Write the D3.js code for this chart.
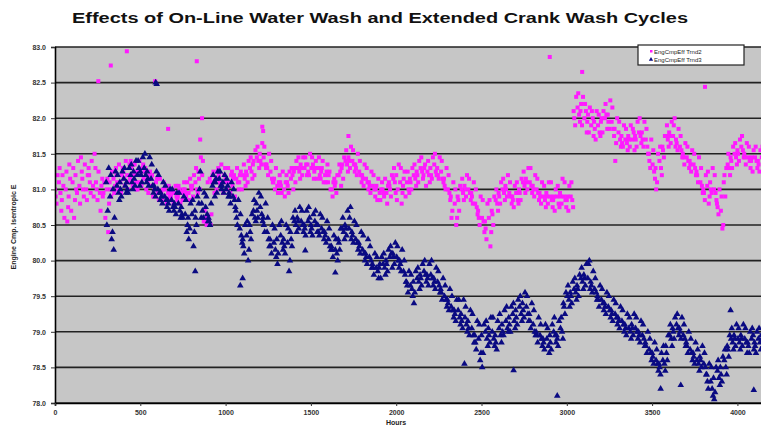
<!DOCTYPE html>
<html>
<head>
<meta charset="utf-8">
<script src="https://cdn.jsdelivr.net/npm/d3@7"></script>
<style>
  body { margin: 0; background: #fff; }
  svg { display: block; font-family: "Liberation Sans", Arial, sans-serif; }
</style>
</head>
<body>
<div id="chart"></div>
<script>
const title = "Effects of On-Line Water Wash and Extended Crank Wash Cycles";
const seriesNames = ["EngCmpEff Trnd2", "EngCmpEff Trnd3"];
const yTicks = [78.0, 78.5, 79.0, 79.5, 80.0, 80.5, 81.0, 81.5, 82.0, 82.5, 83.0];
const xTicks = [0, 500, 1000, 1500, 2000, 2500, 3000, 3500, 4000];

// each row: hour, then four readings taken across the next ~20 hours
const trnd2 = [
  [0, 81.0, 80.8, 81.2, 80.9], [20, 81.1, 80.7, 81.3, 80.95], [40, 80.85, 81.05, 80.6, 81.2], [60, 81.0, 80.75, 81.25, 80.55],
  [80, 80.9, 81.15, 80.7, 81.35], [100, 81.1, 80.85, 81.3, 80.6], [120, 81.2, 80.95, 81.4, 81.0], [140, 81.05, 81.25, 80.8, 81.45],
  [160, 81.15, 80.9, 81.35, 81.0], [180, 81.0, 81.3, 80.85, 81.2], [200, 81.2, 80.95, 81.4, 81.1], [220, 81.05, 81.3, 80.9, 81.5],
  [240, 81.1, 80.85, 81.25, 81.0], [260, 80.95, 81.15, 80.7, 81.05], [280, 80.9, 81.1, 80.6, 80.95], [300, 81.0, 80.8, 81.15, 80.4],
  [320, 81.1, 80.9, 81.25, 81.0], [340, 81.15, 81.3, 80.95, 81.05], [360, 81.2, 81.0, 81.35, 81.1], [380, 81.1, 81.3, 80.95, 81.2],
  [400, 81.25, 81.05, 81.4, 81.15], [420, 81.2, 81.35, 81.0, 81.1], [440, 81.15, 81.3, 81.05, 81.4], [460, 81.2, 81.0, 81.35, 81.1],
  [480, 81.25, 81.1, 81.4, 81.0], [500, 81.2, 81.35, 81.05, 81.3], [520, 81.15, 81.3, 81.0, 81.25], [540, 81.1, 81.25, 80.95, 81.2],
  [560, 81.05, 81.2, 80.9, 81.15], [580, 81.0, 81.15, 80.9, 81.1], [600, 81.0, 80.85, 81.15, 80.95], [620, 80.95, 81.1, 80.85, 81.0],
  [640, 80.9, 81.05, 80.8, 81.0], [660, 80.95, 80.85, 81.05, 80.9], [680, 80.9, 81.0, 80.8, 80.95], [700, 80.95, 80.85, 81.05, 80.9],
  [720, 80.9, 81.0, 80.8, 81.05], [740, 80.95, 81.1, 80.85, 81.0], [760, 81.0, 80.9, 81.1, 80.95], [780, 80.95, 81.05, 80.85, 81.15],
  [800, 81.0, 80.9, 81.2, 81.05], [820, 81.1, 80.95, 81.3, 81.0], [840, 81.25, 81.0, 81.45, 81.15], [860, 81.2, 80.7, 81.4, 80.55],
  [880, 80.6, 80.5, 81.1, 80.55], [900, 80.55, 80.65, 81.15, 80.5], [920, 81.1, 81.25, 80.95, 81.2], [940, 81.15, 81.3, 81.0, 81.25],
  [960, 81.2, 81.05, 81.35, 81.1], [980, 81.1, 81.3, 80.95, 81.2], [1000, 81.15, 81.0, 81.3, 81.1], [1020, 81.1, 81.25, 80.95, 81.2],
  [1040, 81.05, 81.2, 80.9, 81.15], [1060, 81.15, 81.0, 81.3, 81.1], [1080, 81.1, 81.25, 81.0, 81.2], [1100, 81.2, 81.05, 81.35, 81.15],
  [1120, 81.25, 81.1, 81.4, 81.2], [1140, 81.3, 81.15, 81.45, 81.25], [1160, 81.35, 81.2, 81.55, 81.4], [1180, 81.45, 81.3, 81.6, 81.4],
  [1200, 81.5, 81.35, 81.65, 81.4], [1220, 81.45, 81.3, 81.6, 81.35], [1240, 81.35, 81.2, 81.5, 81.3], [1260, 81.25, 81.1, 81.4, 81.15],
  [1280, 81.1, 81.0, 81.3, 81.15], [1300, 81.05, 81.2, 80.95, 81.1], [1320, 81.1, 80.95, 81.25, 81.05], [1340, 81.0, 81.2, 80.9, 81.1],
  [1360, 81.1, 80.95, 81.25, 81.05], [1380, 81.15, 81.0, 81.3, 81.2], [1400, 81.25, 81.1, 81.4, 81.3], [1420, 81.3, 81.15, 81.45, 81.25],
  [1440, 81.35, 81.2, 81.45, 81.3], [1460, 81.3, 81.2, 81.45, 81.35], [1480, 81.35, 81.2, 81.5, 81.25], [1500, 81.3, 81.15, 81.45, 81.35],
  [1520, 81.25, 81.4, 81.15, 81.3], [1540, 81.3, 81.15, 81.45, 81.2], [1560, 81.25, 81.4, 81.1, 81.3], [1580, 81.2, 81.35, 81.1, 81.25],
  [1600, 81.1, 81.25, 81.0, 81.2], [1620, 81.0, 81.15, 80.9, 81.1], [1640, 81.05, 80.95, 81.2, 81.1], [1660, 81.2, 81.05, 81.35, 81.25],
  [1680, 81.3, 81.15, 81.45, 81.35], [1700, 81.4, 81.25, 81.55, 81.35], [1720, 81.45, 81.3, 81.6, 81.4], [1740, 81.4, 81.25, 81.55, 81.35],
  [1760, 81.35, 81.2, 81.5, 81.3], [1780, 81.25, 81.1, 81.4, 81.2], [1800, 81.2, 81.05, 81.35, 81.15], [1820, 81.15, 81.0, 81.3, 81.1],
  [1840, 81.1, 80.95, 81.25, 81.05], [1860, 81.05, 80.9, 81.2, 81.0], [1880, 81.0, 80.85, 81.15, 81.05], [1900, 80.95, 81.1, 80.85, 81.0],
  [1920, 81.0, 80.9, 81.15, 80.95], [1940, 80.95, 81.1, 80.8, 81.05], [1960, 81.05, 80.9, 81.2, 81.0], [1980, 81.15, 80.95, 81.3, 81.1],
  [2000, 81.2, 81.0, 81.35, 80.85], [2020, 81.1, 80.95, 81.3, 80.8], [2040, 81.05, 81.25, 80.9, 81.15], [2060, 81.1, 80.95, 81.25, 81.0],
  [2080, 81.15, 81.0, 81.3, 81.1], [2100, 81.2, 81.05, 81.35, 81.15], [2120, 81.25, 81.1, 81.4, 81.2], [2140, 81.3, 81.15, 81.45, 81.25],
  [2160, 81.2, 81.35, 81.05, 81.3], [2180, 81.25, 81.1, 81.4, 81.2], [2200, 81.3, 81.15, 81.45, 81.2], [2220, 81.35, 81.2, 81.5, 81.25],
  [2240, 81.3, 81.15, 81.45, 81.2], [2260, 81.25, 81.1, 81.4, 81.15], [2280, 81.15, 81.0, 81.3, 81.05], [2300, 81.0, 80.85, 81.2, 80.95],
  [2320, 80.9, 80.7, 81.1, 80.6], [2340, 80.8, 80.6, 81.0, 80.5], [2360, 80.9, 80.7, 81.05, 80.85], [2380, 81.0, 80.85, 81.15, 80.95],
  [2400, 81.05, 80.9, 81.2, 81.0], [2420, 81.0, 80.85, 81.15, 80.95], [2440, 80.95, 80.8, 81.1, 80.9], [2460, 80.8, 80.65, 81.0, 80.75],
  [2480, 80.7, 80.5, 80.9, 80.6], [2500, 80.6, 80.4, 80.85, 80.55], [2520, 80.55, 80.3, 80.8, 80.45], [2540, 80.6, 80.4, 80.85, 80.2],
  [2560, 80.7, 80.5, 80.9, 80.65], [2580, 80.85, 80.7, 81.0, 80.8], [2600, 80.95, 80.8, 81.1, 80.9], [2620, 81.0, 80.85, 81.15, 80.95],
  [2640, 81.05, 80.9, 81.2, 81.0], [2660, 80.95, 80.8, 81.1, 80.9], [2680, 80.9, 80.75, 81.05, 80.85], [2700, 80.95, 80.8, 81.1, 80.85],
  [2720, 81.0, 80.85, 81.15, 80.95], [2740, 81.1, 80.95, 81.25, 81.05], [2760, 81.15, 81.0, 81.3, 81.1], [2780, 81.1, 80.95, 81.3, 81.05],
  [2800, 81.05, 80.9, 81.2, 81.0], [2820, 81.0, 80.85, 81.15, 80.95], [2840, 80.95, 80.8, 81.1, 80.9], [2860, 80.9, 80.75, 81.05, 80.85],
  [2880, 80.95, 80.8, 81.1, 80.9], [2900, 80.9, 80.75, 81.1, 80.85], [2920, 80.85, 80.7, 81.0, 80.9], [2940, 80.9, 80.75, 81.05, 80.8],
  [2960, 80.95, 80.8, 81.15, 80.9], [2980, 80.9, 80.75, 81.1, 80.85], [3000, 80.85, 80.7, 81.05, 80.9], [3020, 80.9, 80.75, 81.1, 80.85],
  [3040, 82.1, 81.9, 82.3, 82.0], [3060, 82.15, 81.95, 82.35, 82.05], [3080, 82.1, 81.9, 82.3, 82.2], [3100, 82.0, 81.8, 82.2, 82.1],
  [3120, 81.95, 81.8, 82.15, 82.05], [3140, 81.9, 81.75, 82.1, 82.0], [3160, 81.95, 81.7, 82.1, 81.85], [3180, 81.9, 81.75, 82.05, 81.8],
  [3200, 81.95, 81.8, 82.1, 82.0], [3220, 82.0, 81.85, 82.2, 82.05], [3240, 82.05, 81.85, 82.25, 81.95], [3260, 81.95, 81.75, 82.15, 81.85],
  [3280, 81.85, 81.65, 82.0, 81.4], [3300, 81.8, 81.6, 81.95, 81.7], [3320, 81.75, 81.6, 81.9, 81.65], [3340, 81.7, 81.55, 81.85, 81.65],
  [3360, 81.75, 81.6, 81.9, 81.7], [3380, 81.7, 81.55, 81.85, 81.8], [3400, 81.75, 81.6, 81.95, 81.7], [3420, 81.8, 81.65, 82.0, 81.75],
  [3440, 81.8, 81.6, 81.95, 81.7], [3460, 81.7, 81.5, 81.85, 81.6], [3480, 81.5, 81.3, 81.7, 81.4], [3500, 81.35, 81.15, 81.55, 81.25],
  [3520, 81.3, 81.1, 81.5, 81.0], [3540, 81.4, 81.2, 81.6, 81.3], [3560, 81.6, 81.45, 81.75, 81.55], [3580, 81.75, 81.6, 81.9, 81.7],
  [3600, 81.8, 81.65, 81.95, 81.75], [3620, 81.75, 81.6, 81.9, 82.0], [3640, 81.7, 81.55, 81.85, 81.65], [3660, 81.6, 81.45, 81.75, 81.55],
  [3680, 81.5, 81.35, 81.65, 81.45], [3700, 81.45, 81.3, 81.6, 81.4], [3720, 81.4, 81.25, 81.55, 81.35], [3740, 81.35, 81.2, 81.5, 81.3],
  [3760, 81.25, 81.1, 81.45, 81.2], [3780, 81.1, 80.95, 81.3, 81.05], [3800, 81.0, 80.85, 81.2, 80.95], [3820, 81.05, 80.9, 81.25, 80.8],
  [3840, 81.1, 80.95, 81.3, 81.0], [3860, 81.0, 80.85, 81.2, 80.95], [3880, 80.8, 80.65, 81.0, 80.75], [3900, 80.7, 80.5, 80.9, 80.45],
  [3920, 81.1, 80.9, 81.3, 81.2], [3940, 81.35, 81.2, 81.5, 81.3], [3960, 81.45, 81.3, 81.6, 81.4], [3980, 81.5, 81.35, 81.65, 81.45],
  [4000, 81.55, 81.4, 81.7, 81.5], [4020, 81.6, 81.45, 81.75, 81.55], [4040, 81.5, 81.35, 81.65, 81.45], [4060, 81.45, 81.3, 81.6, 81.4],
  [4080, 81.4, 81.25, 81.55, 81.45], [4100, 81.45, 81.3, 81.6, 81.4], [4120, 81.4, 81.25, 81.55, 81.35], [4140, 81.45, 81.3, 81.6, 81.4]
];
const trnd2Outliers = [
  [254, 82.52], [327, 82.74], [421, 82.94], [587, 82.52], [663, 81.85], [831, 82.8], [851, 81.7], [862, 82.0],
  [1215, 81.88], [1220, 81.82], [1720, 81.75], [2900, 82.86], [3090, 82.65], [3810, 82.44]
];

const trnd3 = [
  [300, 81.1, 80.7, 81.3, 80.5], [320, 80.9, 80.4, 81.2, 80.3], [340, 81.0, 80.6, 81.25, 80.15], [360, 81.05, 80.85, 81.2, 80.95],
  [380, 81.1, 80.9, 81.25, 81.0], [400, 81.15, 80.95, 81.3, 81.05], [420, 81.1, 80.95, 81.3, 81.0], [440, 81.2, 81.0, 81.35, 81.1],
  [460, 81.25, 81.05, 81.4, 81.15], [480, 81.2, 81.05, 81.4, 81.3], [500, 81.25, 81.1, 81.45, 81.2], [520, 81.3, 81.1, 81.5, 81.2],
  [540, 81.25, 81.05, 81.45, 81.15], [560, 81.15, 80.95, 81.35, 81.05], [580, 81.05, 80.9, 81.25, 81.0], [600, 81.0, 80.85, 81.2, 80.95],
  [620, 80.95, 80.8, 81.1, 80.9], [640, 80.9, 80.75, 81.05, 80.85], [660, 80.85, 80.7, 81.0, 80.8], [680, 80.85, 80.7, 81.0, 80.75],
  [700, 80.8, 80.65, 80.95, 80.75], [720, 80.8, 80.6, 80.95, 80.7], [740, 80.75, 80.6, 80.9, 80.65], [760, 80.65, 80.5, 80.85, 80.4],
  [780, 80.6, 80.45, 80.8, 80.3], [800, 80.65, 80.4, 80.85, 80.2], [820, 80.7, 80.5, 80.9, 80.6], [840, 80.8, 80.6, 81.0, 81.25],
  [860, 80.8, 80.6, 80.95, 80.7], [880, 80.75, 80.55, 80.9, 80.65], [900, 80.6, 80.5, 80.8, 80.55], [920, 81.05, 80.9, 81.2, 81.1],
  [940, 81.1, 80.95, 81.25, 81.15], [960, 81.15, 81.0, 81.25, 81.05], [980, 81.05, 80.95, 81.2, 81.1], [1000, 81.0, 80.9, 81.15, 81.05],
  [1020, 80.95, 80.8, 81.1, 80.9], [1040, 80.9, 80.75, 81.0, 80.85], [1060, 80.7, 80.5, 80.85, 80.6], [1080, 80.45, 80.25, 80.65, 80.35],
  [1100, 80.3, 80.1, 80.5, 80.2], [1120, 80.35, 80.15, 80.55, 80.0], [1140, 80.5, 80.3, 80.65, 80.4], [1160, 80.7, 80.55, 80.85, 80.6],
  [1180, 80.8, 80.6, 80.95, 80.7], [1200, 80.75, 80.55, 80.9, 80.65], [1220, 80.6, 80.4, 80.8, 80.5], [1240, 80.4, 80.2, 80.6, 80.3],
  [1260, 80.3, 80.1, 80.5, 80.2], [1280, 80.25, 80.05, 80.45, 80.15], [1300, 80.3, 80.1, 80.5, 79.95], [1320, 80.35, 80.15, 80.55, 80.25],
  [1340, 80.3, 80.1, 80.5, 80.2], [1360, 80.25, 80.0, 80.45, 79.85], [1380, 80.4, 80.2, 80.6, 80.3], [1400, 80.55, 80.4, 80.7, 80.5],
  [1420, 80.6, 80.45, 80.75, 80.55], [1440, 80.55, 80.4, 80.7, 80.5], [1460, 80.5, 80.35, 80.7, 80.45], [1480, 80.55, 80.4, 80.75, 80.6],
  [1500, 80.5, 80.35, 80.65, 80.45], [1520, 80.55, 80.4, 80.7, 80.5], [1540, 80.5, 80.35, 80.65, 80.4], [1560, 80.45, 80.3, 80.6, 80.4],
  [1580, 80.4, 80.25, 80.55, 80.35], [1600, 80.3, 80.15, 80.45, 80.2], [1620, 80.2, 80.05, 80.35, 80.15], [1640, 80.15, 80.0, 80.3, 80.1],
  [1660, 80.3, 80.15, 80.45, 80.25], [1680, 80.45, 80.3, 80.6, 80.4], [1700, 80.5, 80.35, 80.7, 80.45], [1720, 80.45, 80.3, 80.6, 80.75],
  [1740, 80.4, 80.25, 80.55, 80.35], [1760, 80.3, 80.15, 80.5, 80.25], [1780, 80.25, 80.1, 80.4, 80.2], [1800, 80.15, 80.0, 80.35, 80.1],
  [1820, 80.1, 79.95, 80.3, 80.05], [1840, 80.05, 79.9, 80.2, 80.0], [1860, 79.95, 79.8, 80.1, 79.9], [1880, 79.9, 79.75, 80.05, 79.85],
  [1900, 79.9, 79.75, 80.05, 79.95], [1920, 79.95, 79.8, 80.1, 79.9], [1940, 80.0, 79.85, 80.15, 79.95], [1960, 80.05, 79.9, 80.2, 80.1],
  [1980, 80.1, 79.95, 80.25, 80.05], [2000, 80.05, 79.9, 80.2, 80.0], [2020, 80.0, 79.85, 80.15, 79.95], [2040, 79.85, 79.7, 80.0, 79.8],
  [2060, 79.7, 79.55, 79.85, 79.65], [2080, 79.65, 79.5, 79.8, 79.6], [2100, 79.7, 79.55, 79.85, 79.4], [2120, 79.75, 79.6, 79.9, 79.7],
  [2140, 79.8, 79.65, 79.95, 79.75], [2160, 79.85, 79.7, 80.0, 79.8], [2180, 79.8, 79.65, 79.95, 79.75], [2200, 79.8, 79.65, 80.0, 79.75],
  [2220, 79.75, 79.6, 79.9, 79.7], [2240, 79.7, 79.55, 79.85, 79.65], [2260, 79.6, 79.45, 79.75, 79.55], [2280, 79.5, 79.35, 79.65, 79.45],
  [2300, 79.45, 79.3, 79.6, 79.4], [2320, 79.35, 79.2, 79.5, 79.3], [2340, 79.3, 79.15, 79.45, 79.25], [2360, 79.3, 79.1, 79.45, 79.2],
  [2380, 79.25, 79.05, 79.45, 79.15], [2400, 79.2, 79.0, 79.35, 79.1], [2420, 79.15, 78.95, 79.3, 79.05], [2440, 79.05, 78.85, 79.25, 78.95],
  [2460, 78.95, 78.75, 79.15, 78.85], [2480, 78.9, 78.7, 79.1, 78.6], [2500, 78.95, 78.7, 79.1, 78.5], [2520, 79.0, 78.8, 79.15, 78.9],
  [2540, 79.05, 78.85, 79.2, 78.95], [2560, 79.0, 78.8, 79.2, 78.9], [2580, 78.95, 78.75, 79.15, 78.85], [2600, 79.05, 78.85, 79.25, 78.95],
  [2620, 79.1, 78.95, 79.3, 79.0], [2640, 79.15, 79.0, 79.35, 79.05], [2660, 79.2, 79.0, 79.35, 79.1], [2680, 79.25, 79.05, 79.4, 79.15],
  [2700, 79.3, 79.1, 79.45, 79.2], [2720, 79.35, 79.15, 79.5, 79.25], [2740, 79.4, 79.2, 79.55, 79.3], [2760, 79.35, 79.15, 79.5, 79.25],
  [2780, 79.25, 79.05, 79.4, 79.15], [2800, 79.1, 78.95, 79.3, 79.0], [2820, 79.0, 78.85, 79.2, 78.95], [2840, 78.95, 78.8, 79.1, 78.9],
  [2860, 78.9, 78.75, 79.1, 78.85], [2880, 78.9, 78.7, 79.05, 78.8], [2900, 78.95, 78.75, 79.1, 78.85], [2920, 79.0, 78.85, 79.2, 78.95],
  [2940, 78.95, 78.8, 79.15, 78.9], [2960, 79.05, 78.9, 79.2, 79.0], [2980, 79.4, 79.25, 79.55, 79.35], [3000, 79.5, 79.35, 79.65, 79.45],
  [3020, 79.55, 79.4, 79.7, 79.5], [3040, 79.6, 79.45, 79.75, 79.55], [3060, 79.65, 79.5, 79.8, 79.6], [3080, 79.75, 79.6, 79.9, 79.7],
  [3100, 79.8, 79.65, 79.95, 79.75], [3120, 79.75, 79.6, 79.95, 80.0], [3140, 79.7, 79.55, 79.85, 79.65], [3160, 79.6, 79.45, 79.75, 79.55],
  [3180, 79.5, 79.35, 79.65, 79.45], [3200, 79.45, 79.3, 79.6, 79.4], [3220, 79.4, 79.25, 79.55, 79.35], [3240, 79.35, 79.2, 79.5, 79.3],
  [3260, 79.3, 79.15, 79.45, 79.25], [3280, 79.25, 79.1, 79.4, 79.2], [3300, 79.2, 79.05, 79.35, 79.15], [3320, 79.15, 79.0, 79.3, 79.1],
  [3340, 79.1, 78.95, 79.25, 79.05], [3360, 79.05, 78.9, 79.2, 79.0], [3380, 79.1, 78.95, 79.25, 79.05], [3400, 79.05, 78.9, 79.2, 79.0],
  [3420, 79.0, 78.85, 79.15, 78.95], [3440, 78.95, 78.8, 79.1, 78.9], [3460, 78.85, 78.7, 79.0, 78.8], [3480, 78.75, 78.6, 78.9, 78.7],
  [3500, 78.7, 78.55, 78.85, 78.65], [3520, 78.6, 78.45, 78.75, 78.55], [3540, 78.55, 78.4, 78.7, 78.5], [3560, 78.6, 78.45, 78.8, 78.55],
  [3580, 78.8, 78.6, 78.95, 78.7], [3600, 78.95, 78.8, 79.1, 78.9], [3620, 79.05, 78.9, 79.2, 79.0], [3640, 79.1, 78.95, 79.25, 79.05],
  [3660, 79.05, 78.9, 79.2, 79.0], [3680, 78.95, 78.8, 79.1, 78.9], [3700, 78.85, 78.7, 79.0, 78.8], [3720, 78.75, 78.6, 78.9, 78.7],
  [3740, 78.7, 78.55, 78.85, 78.65], [3760, 78.6, 78.45, 78.75, 78.55], [3780, 78.65, 78.5, 78.8, 78.6], [3800, 78.55, 78.4, 78.7, 78.5],
  [3820, 78.4, 78.2, 78.55, 78.3], [3840, 78.3, 78.1, 78.5, 78.2], [3860, 78.35, 78.15, 78.5, 78.05], [3880, 78.45, 78.25, 78.6, 78.35],
  [3900, 78.5, 78.3, 78.65, 78.4], [3920, 78.6, 78.4, 78.75, 78.5], [3940, 78.8, 78.65, 78.95, 78.75], [3960, 78.9, 78.75, 79.05, 78.85],
  [3980, 78.95, 78.8, 79.1, 78.9], [4000, 78.9, 78.75, 79.05, 78.85], [4020, 78.95, 78.8, 79.1, 78.9], [4040, 78.9, 78.7, 79.05, 78.85],
  [4060, 78.85, 78.7, 79.0, 78.8], [4080, 78.9, 78.75, 79.05, 78.95], [4100, 78.85, 78.7, 79.0, 78.8], [4120, 78.9, 78.75, 79.05, 78.85],
  [4140, 78.95, 78.8, 79.1, 78.9]
];
const trnd3Outliers = [
  [590, 82.5], [596, 82.48], [822, 79.85], [1086, 79.65], [1100, 79.75], [1467, 80.14], [1643, 79.83],
  [2400, 78.55], [2688, 78.46], [2944, 78.1], [3550, 78.2], [3668, 78.25], [3960, 79.3], [4096, 78.18]
];

const width = 761, height = 428;
const margin = { top: 47, left: 55, bottom: 25, right: 0 };

const svg = d3.select("#chart").append("svg")
    .attr("width", width)
    .attr("height", height);

const x = d3.scaleLinear().domain([0, 4150]).range([margin.left, 763]);
const y = d3.scaleLinear().domain([78, 83]).range([height - margin.bottom, margin.top]);

// flatten the rows into points; readings sit at staggered hours inside the 20 hour slot
const slotOffsets = [[0, 9, 15, 4], [3, 17, 7, 12]];
function toPoints(rows, extra) {
    const pts = [];
    rows.forEach((r, j) => {
        r.slice(1).forEach((v, i) => pts.push([r[0] + slotOffsets[j % 2][i], v]));
    });
    return pts.concat(extra);
}

svg.append("text")
    .attr("x", 380)
    .attr("y", 23)
    .attr("text-anchor", "middle")
    .attr("textLength", 616)
    .attr("lengthAdjust", "spacingAndGlyphs")
    .style("font-size", "14px")
    .style("font-weight", "bold")
    .style("fill", "#111")
    .text(title);

// plot background
svg.append("rect")
    .attr("x", margin.left)
    .attr("y", y(83))
    .attr("width", width - margin.left)
    .attr("height", y(78) - y(83))
    .style("fill", "#c6c6c6");

// gridlines
svg.append("g")
    .selectAll("line")
    .data(yTicks)
    .join("line")
    .attr("x1", margin.left)
    .attr("x2", width)
    .attr("y1", d => y(d))
    .attr("y2", d => y(d))
    .style("stroke", "#222")
    .style("stroke-width", 1.6);

svg.append("clipPath").attr("id", "plotClip")
    .append("rect")
    .attr("x", margin.left)
    .attr("y", y(83) - 4)
    .attr("width", width - margin.left)
    .attr("height", y(78) - y(83) + 4);

const plot = svg.append("g").attr("clip-path", "url(#plotClip)");

plot.append("g")
    .selectAll("rect")
    .data(toPoints(trnd2, trnd2Outliers))
    .join("rect")
    .attr("x", d => x(d[0]) - 2)
    .attr("y", d => y(d[1]) - 2)
    .attr("width", 4)
    .attr("height", 4)
    .style("fill", "#ff1aff");

const tri = d3.symbol().type(d3.symbolTriangle).size(19);
plot.append("g")
    .selectAll("path")
    .data(toPoints(trnd3, trnd3Outliers))
    .join("path")
    .attr("d", tri)
    .attr("transform", d => `translate(${x(d[0])},${y(d[1])})`)
    .style("fill", "#0a0a82");

// axes
const yAxis = svg.append("g")
    .attr("transform", `translate(${margin.left},0)`)
    .call(d3.axisLeft(y).tickValues(yTicks).tickFormat(d3.format(".1f")).tickSize(4).tickPadding(5));
const xAxis = svg.append("g")
    .attr("transform", `translate(0,${y(78)})`)
    .call(d3.axisBottom(x).tickValues(xTicks).tickFormat(d3.format("d")).tickSize(3).tickPadding(4));

[yAxis, xAxis].forEach(a => {
    a.select(".domain").style("stroke", "#000").style("stroke-width", 1.6);
    a.selectAll(".tick line").style("stroke", "#333");
    a.selectAll("text")
        .style("font-size", "7px")
        .style("font-weight", "bold")
        .style("fill", "#333");
});

svg.append("text")
    .attr("transform", `translate(16,${(y(83) + y(78)) / 2 + 2}) rotate(-90)`)
    .attr("text-anchor", "middle")
    .style("font-size", "7px")
    .style("font-weight", "bold")
    .style("fill", "#222")
    .text("Engine Cmp. Isentropic E");

svg.append("text")
    .attr("x", 396)
    .attr("y", 425)
    .attr("text-anchor", "middle")
    .style("font-size", "7px")
    .style("font-weight", "bold")
    .style("fill", "#222")
    .text("Hours");

// legend
const legend = svg.append("g").attr("transform", "translate(638,45)");
legend.append("rect")
    .attr("width", 106)
    .attr("height", 20)
    .style("fill", "#fff")
    .style("stroke", "#222")
    .style("stroke-width", 1.2);
legend.append("rect")
    .attr("x", 12).attr("y", 5)
    .attr("width", 2.5).attr("height", 2.5)
    .style("fill", "#ff1aff");
legend.append("path")
    .attr("d", d3.symbol().type(d3.symbolTriangle).size(8))
    .attr("transform", "translate(13,14.5)")
    .style("fill", "#0a0a82");
legend.selectAll("text.lbl")
    .data(seriesNames)
    .join("text")
    .attr("class", "lbl")
    .attr("x", 16)
    .attr("y", (d, i) => 8.5 + i * 8.5)
    .style("font-size", "6px")
    .style("fill", "#222")
    .text(d => d);
</script>
</body>
</html>
